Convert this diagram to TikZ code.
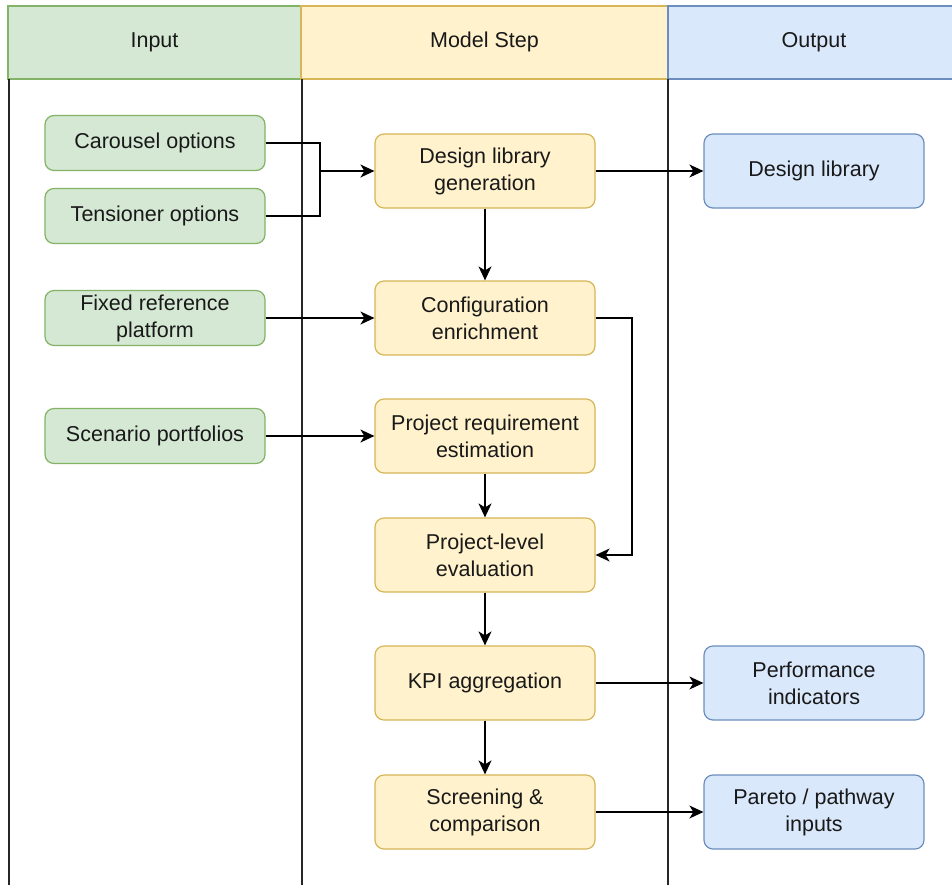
\documentclass[tikz,border=0pt]{standalone}
\usepackage{fontspec}
\setmainfont{Liberation Sans}
\usetikzlibrary{arrows.meta}
\definecolor{gfill}{HTML}{D5E8D4}\definecolor{gdraw}{HTML}{82B366}
\definecolor{yfill}{HTML}{FFF2CC}\definecolor{ydraw}{HTML}{D6B656}
\definecolor{bfill}{HTML}{DAE8FC}\definecolor{bdraw}{HTML}{6C8EBF}
\tikzset{
  box/.style={rounded corners=9pt, line width=1.2pt, minimum width=220pt, align=center,
    font=\fontsize{21.5}{27}\selectfont, text=black!90, inner sep=2pt},
  inbox/.style={box, fill=gfill, draw=gdraw, minimum height=55pt},
  stepbox/.style={box, fill=yfill, draw=ydraw, minimum height=74pt},
  outbox/.style={box, fill=bfill, draw=bdraw, minimum height=74pt},
  hdr/.style={line width=1.2pt, font=\fontsize{21.5}{27}\selectfont, text=black!90},
  lane/.style={line width=1.6pt, draw=black!85},
  conn/.style={line width=1.4pt, -{Stealth[length=14pt,width=13pt,inset=4pt]}},
}
\begin{document}
\begin{tikzpicture}[x=1pt,y=-1pt]
\useasboundingbox (0,0) rectangle (952,884);
\clip (0,0) rectangle (952,884);
\fill[white] (0,0) rectangle (952,884);
% headers
\draw[hdr, fill=gfill, draw=gdraw] (8,6) rectangle (301,79);
\draw[hdr, fill=yfill, draw=ydraw] (301,6) rectangle (668,79);
\draw[hdr, fill=bfill, draw=bdraw] (668,6) rectangle (970,79);
\node[hdr] (hin) at (154.5,42) {Input};
\node[hdr] (hstep) at (484.5,42) {Model Step};
\node[hdr] (hout) at (814,42) {Output};
% lanes
\draw[lane] (9,79) -- (9,900);
\draw[lane] (302,79) -- (302,900);
\draw[lane] (668,79) -- (668,900);
% inputs
\node[inbox] (car) at (155,143) {Carousel options};
\node[inbox] (ten) at (155,216) {Tensioner options};
\node[inbox] (fix) at (155,318) {Fixed reference\\platform};
\node[inbox] (scen) at (155,436) {Scenario portfolios};
% steps
\node[stepbox] (dlg) at (485,171) {Design library\\generation};
\node[stepbox] (conf) at (485,318) {Configuration\\enrichment};
\node[stepbox] (pre) at (485,436) {Project requirement\\estimation};
\node[stepbox] (ple) at (485,555) {Project-level\\evaluation};
\node[stepbox] (kpi) at (485,683) {KPI aggregation};
\node[stepbox] (scr) at (485,812) {Screening \&\\comparison};
% outputs
\node[outbox] (dl) at (814,171) {Design library};
\node[outbox] (perf) at (814,683) {Performance\\indicators};
\node[outbox] (par) at (814,812) {Pareto / pathway\\inputs};
% connectors
\coordinate (j) at (320,171);
\draw[line width=1.4pt] (car.east) -| (j);
\draw[line width=1.4pt] (ten.east) -| (j);
\draw[conn] (j) -- (dlg.west);
\draw[conn] (fix.east) -- (fix.east -| conf.west);
\draw[conn] (scen.east) -- (scen.east -| pre.west);
\draw[conn] (dlg.east) -- (dlg.east -| dl.west);
\draw[conn] (dlg.south) -- (conf.north);
\draw[conn] (conf.east) -- (632,318) |- (ple.east);
\draw[conn] (pre.south) -- (ple.north);
\draw[conn] (ple.south) -- (kpi.north);
\draw[conn] (kpi.south) -- (scr.north);
\draw[conn] (kpi.east) -- (kpi.east -| perf.west);
\draw[conn] (scr.east) -- (scr.east -| par.west);
\end{tikzpicture}
\end{document}
